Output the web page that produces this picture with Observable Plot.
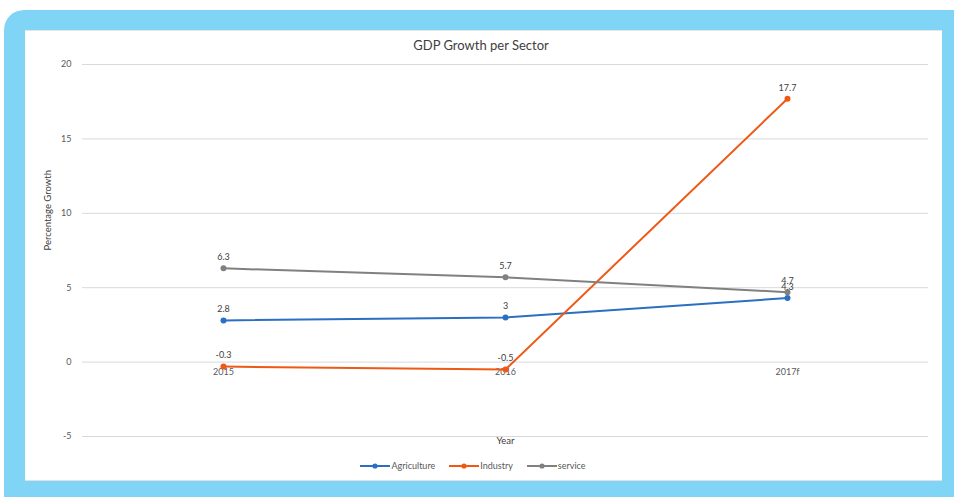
<!DOCTYPE html>
<html>
<head>
<meta charset="utf-8">
<script src="https://cdn.jsdelivr.net/npm/d3@7"></script>
<script src="https://cdn.jsdelivr.net/npm/@observablehq/plot@0.6"></script>
<style>
  html, body { margin: 0; padding: 0; }
  body { width: 954px; height: 497px; overflow: hidden; background: #ffffff; position: relative; font-family: Lato, "Open Sans", sans-serif; }
  #frame { position: absolute; left: 4px; top: 10px; width: 975px; height: 515px; background: #80d5f7; border-radius: 20px; }
  #inner { position: absolute; left: 25px; top: 30px; width: 917px; height: 451px; background: #ffffff; border-top: 1px solid #e6e6e6; border-bottom: 1px solid #e0e0e0; box-sizing: border-box; }
  #title { position: absolute; left: 0; width: 962px; top: 37px; text-align: center; font-size: 13px; color: #404040; }
  #chart { position: absolute; left: 0; top: 52px; }
  #legend { position: absolute; left: 0; width: 946px; top: 460px; display: flex; justify-content: center; gap: 14px; font-size: 9px; color: #595959; }
  #legend .item { display: flex; align-items: center; gap: 1px; }
</style>
</head>
<body>
<div id="frame"></div>
<div id="inner"></div>
<div id="title">GDP Growth per Sector</div>
<div id="chart"></div>
<div id="legend"></div>
<script>
const years = ["2015", "2016", "2017f"];
const sectors = ["Agriculture", "Industry", "service"];
const agriculture = [2.8, 3, 4.3];
const industry = [-0.3, -0.5, 17.7];
const service = [6.3, 5.7, 4.7];
const colors = ["#2a6fc2", "#ee5a16", "#808080"];
const yTicks = [-5, 0, 5, 10, 15, 20];

const seriesValues = [agriculture, industry, service];
const data = [];
sectors.forEach((s, i) => years.forEach((y, j) => data.push({sector: s, year: y, value: seriesValues[i][j]})));

const plot = Plot.plot({
  width: 954,
  height: 403,
  marginLeft: 82,
  marginRight: 26,
  marginTop: 12,
  marginBottom: 19,
  style: { background: "transparent", fontFamily: "Lato, 'Open Sans', sans-serif", color: "#595959" },
  x: { type: "point", domain: years, padding: 0.5, axis: null },
  y: { domain: [-5, 20], ticks: yTicks, label: null },
  color: { domain: sectors, range: colors },
  marks: [
    Plot.gridY(yTicks, { stroke: "#d9d9d9", strokeOpacity: 1, strokeWidth: 1 }),
    Plot.axisY(yTicks, { tickSize: 0, tickPadding: 11, fontSize: 9, fill: "#595959", label: null, tickFormat: d => String(d) }),
    Plot.text(["Percentage Growth"], { frameAnchor: "left", rotate: -90, dx: -35, fontSize: 9.5, fill: "#404040" }),
    Plot.text(years, { x: d => d, y: () => 0, dy: 10, fontSize: 9, fill: "#595959" }),
    Plot.text(["Year"], { frameAnchor: "bottom", dy: 7, fontSize: 9.5, fill: "#404040" }),
    Plot.line(data, { x: "year", y: "value", stroke: "sector", z: "sector", strokeWidth: 2 }),
    Plot.dot(data, { x: "year", y: "value", fill: "sector", r: 3 }),
    Plot.text(data, { x: "year", y: "value", text: d => String(d.value), dy: -11, fontSize: 9, fill: "#404040" })
  ]
});
document.getElementById("chart").appendChild(plot);

const legend = document.getElementById("legend");
sectors.forEach((s, i) => {
  const item = document.createElement("div");
  item.className = "item";
  item.innerHTML = `<svg width="30" height="8"><line x1="0" y1="4" x2="30" y2="4" stroke="${colors[i]}" stroke-width="2"/><circle cx="15" cy="4" r="2.6" fill="${colors[i]}"/></svg><span>${s}</span>`;
  legend.appendChild(item);
});
</script>
</body>
</html>
